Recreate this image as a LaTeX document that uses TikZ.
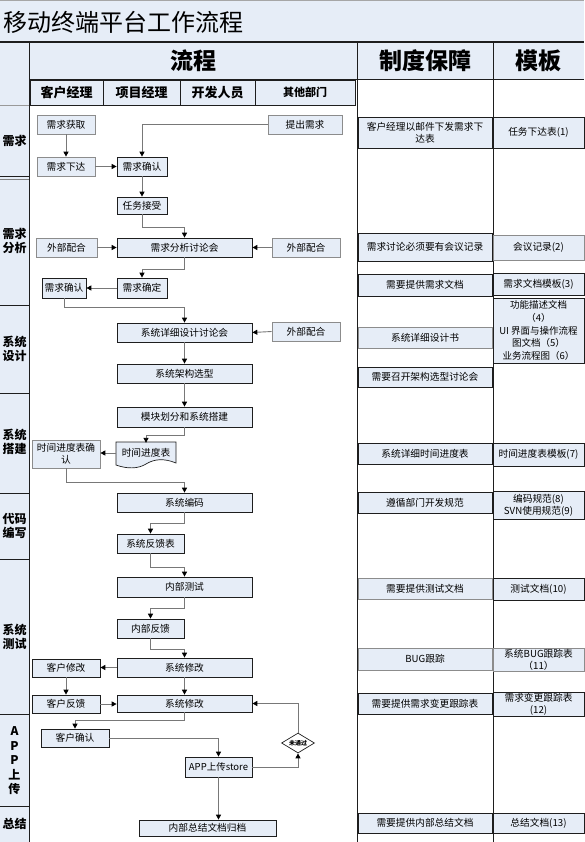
\documentclass[tikz,border=0pt]{standalone}
\usepackage{fontspec}
\setmainfont{Noto Sans CJK SC}
\usetikzlibrary{arrows.meta,shapes.geometric}
\definecolor{bb}{RGB}{230,237,247}
\definecolor{ln}{RGB}{120,120,120}
\definecolor{bd}{RGB}{30,30,30}
\newcommand\bx[7][]{\node[box,#1,minimum width={#5-#3},minimum height={#6-#4}] (#2) at ({(#3+#5)/2},{(#4+#6)/2}) {#7};}
\begin{document}
\begin{tikzpicture}[x=1pt,y=-1pt,
  box/.style={draw=bd,fill=bb,line width=0.7pt,inner sep=0pt,align=center,font=\fontsize{9.7}{12}\selectfont},
  gbox/.style={draw=black!45},
  lh/.style={font=\bfseries\fontsize{13}{13}\selectfont},
  ph/.style={font=\bfseries\fontsize{12}{14.5}\selectfont,align=center,inner sep=0pt},
  hd/.style={font=\bfseries\fontsize{23}{23}\selectfont,inner sep=0pt},
  conn/.style={draw=ln,line width=0.9pt,-{Triangle[length=5pt,width=5pt,color=black]}},
  grid/.style={draw=bd,line width=0.8pt}]
\useasboundingbox (0,0) rectangle (584,842);
% backgrounds
\fill[bb] (0,0) rectangle (584,42);
\draw[black!35] (0,0.5) -- (584,0.5);
\node[anchor=west,inner sep=0pt,font=\fontsize{24}{24}\selectfont] (title) at (3,22) {移动终端平台工作流程};
\fill[bb] (0,42) rectangle (584,79);
\fill[bb] (0,79) rectangle (29,842);
% grid lines
\draw[grid,line width=1.2pt] (0,42) -- (584,42);
\draw[grid] (29,79) -- (584,79);
\draw[grid] (29,42) -- (29,842);
\draw[grid] (357,42) -- (357,842);
\draw[grid] (493,42) -- (493,842);
\draw[black!40] (0,105) -- (29,105);
\foreach \yy in {176,305,393,493,559,714,806} {\draw[grid] (0,\yy) -- (29,\yy);}
\draw[grid,black!50] (0,179) -- (29,179);
% headers
\node[hd] (hflow) at (193,61) {流程};
\node[hd] (hzd) at (425,61) {制度保障};
\node[hd] (hmb) at (538,61) {模板};
\bx[lh]{l1}{30}{80}{103}{105}{客户经理}
\bx[lh]{l2}{103}{80}{180}{105}{项目经理}
\bx[lh]{l3}{180}{80}{255}{105}{开发人员}
\bx[font=\bfseries\fontsize{11}{11}\selectfont]{l4}{255}{80}{355}{105}{其他部门}
% phase labels
\node[ph] (p1) at (14.5,141) {需求};
\node[ph] (p2) at (14.5,241) {需求\\分析};
\node[ph] (p3) at (14.5,349) {系统\\设计};
\node[ph] (p4) at (14.5,442) {系统\\搭建};
\node[ph] (p5) at (14.5,526) {代码\\编写};
\node[ph] (p6) at (14.5,637) {系统\\测试};
\node[ph] (p7) at (14.5,761) {A\\P\\P\\上\\传};
\node[ph] (p8) at (14.5,824) {总结};
% flow boxes
\bx[gbox]{xqhq}{37}{115}{95}{134}{需求获取}
\bx[gbox]{tcxq}{268}{115}{342}{134}{提出需求}
\bx[gbox]{xqxd}{37}{157}{95}{176}{需求下达}
\bx{xqqr}{117}{157}{167}{176}{需求确认}
\bx{rwjs}{117}{197}{167}{214}{任务接受}
\bx{xqfx}{117}{238}{252}{257}{需求分析讨论会}
\bx[gbox]{wb1}{36}{238}{97}{257}{外部配合}
\bx[gbox]{wb2}{272}{238}{340}{257}{外部配合}
\bx{xqqd}{117}{278}{167}{298}{需求确定}
\bx{xqqrb}{42}{278}{86}{298}{需求确认}
\bx{xxsj}{117}{323}{252}{342}{系统详细设计讨论会}
\bx[gbox]{wb3}{272}{322}{340}{341}{外部配合}
\bx{jgxx}{117}{364}{252}{383}{系统架构选型}
\bx{mkhf}{117}{407}{252}{427}{模块划分和系统搭建}
\draw[draw=bd,fill=bb,line width=0.7pt] (116,442) -- (176,442) -- (176,463)
  .. controls (164,458) and (154,459) .. (146,464)
  .. controls (138,469) and (127,469) .. (116,465) -- cycle;
\node[inner sep=0pt,minimum width=60pt,minimum height=20pt,font=\fontsize{9.7}{12}\selectfont] (sjjd) at (146,453) {时间进度表};
\bx[gbox]{sjqr}{32}{440}{100}{468}{时间进度表确\\认}
\bx{xtbm}{117}{493}{252}{512}{系统编码}
\bx{fkb}{117}{534}{184}{553}{系统反馈表}
\bx{nbcs}{117}{577}{252}{597}{内部测试}
\bx{nbfk}{117}{619}{184}{638}{内部反馈}
\bx{xtxga}{117}{658}{252}{677}{系统修改}
\bx{khxg}{32}{659}{100}{677}{客户修改}
\bx{khfk}{32}{695}{100}{713}{客户反馈}
\bx{xtxgb}{117}{695}{252}{712}{系统修改}
\bx{khqr}{41}{729}{109}{747}{客户确认}
\bx[font=\fontsize{9.5}{12}\selectfont]{app}{185}{757}{252}{777}{APP上传store}
\node[diamond,draw=bd,fill=white,line width=0.7pt,inner sep=0pt,minimum width=33pt,minimum height=20pt,aspect=1.7,font=\bfseries\fontsize{6}{6}\selectfont] (wtg) at (298,743) {未通过};
\bx{zjgd}{139}{820}{276}{836}{内部总结文档归档}
% connectors
\draw[conn] (xqhq.south) -- (xqxd.north);
\draw[conn] (xqxd.east) -- (xqqr.west);
\draw[conn] (tcxq.west) -| (xqqr.north);
\draw[conn] (xqqr.south) -- (rwjs.north);
\draw[conn] (rwjs.south) -- ++(0,13) -| (xqfx.north);
\draw[conn] (wb1.east) -- (xqfx.west);
\draw[conn] (wb2.west) -- (xqfx.east);
\draw[conn] (xqfx.south) -- ++(0,12) -| (xqqd.north);
\draw[conn] (xqqd.west) -- (xqqrb.east);
\draw[conn] (xqqrb.south) -- ++(0,9) -| (xxsj.north);
\draw[conn] (wb3.west) -- (xxsj.east);
\draw[conn] (xxsj.south) -- (jgxx.north);
\draw[conn] (jgxx.south) -- (mkhf.north);
\draw[conn] (mkhf.south) -- ++(0,8) -| (sjjd.north);
\draw[conn] (sjjd.west) -- (sjjd.west -| sjqr.east);
\draw[conn] (sjqr.south) -- ++(0,14) -| (xtbm.north);
\draw[conn] (xtbm.south) -- ++(0,11) -| (fkb.north);
\draw[conn] (fkb.south) -- ++(0,14) -| (nbcs.north);
\draw[conn] (nbcs.south) -- ++(0,11) -| (nbfk.north);
\draw[conn] (nbfk.south) -- ++(0,11) -| (xtxga.north);
\draw[conn] (xtxga.west) -- (xtxga.west -| khxg.east);
\draw[conn] (khxg.south) -- (khfk.north);
\draw[conn] (xtxga.south) -- (xtxgb.north);
\draw[conn] (khfk.east) -- (khfk.east -| xtxgb.west);
\draw[conn] (xtxgb.south) -- ++(0,8) -| (khqr.north);
\draw[conn] (khqr.east) -| (app.north);
\draw[conn] (app.east) -| (wtg.south);
\draw[conn] (wtg.north) |- (xtxgb.east);
\draw[conn] (app.south) -- (app.south |- zjgd.north);
% right columns
\bx{ra}{358}{117}{492}{148}{客户经理以邮件下发需求下\\达表}
\bx{ma}{493}{117}{584}{148}{任务下达表(1)}
\bx{rb}{358}{233}{492}{261}{需求讨论必须要有会议记录}
\bx[gbox]{mb}{493}{235}{584}{260}{会议记录(2)}
\bx{rc}{358}{274}{492}{296}{需要提供需求文档}
\bx{mc}{493}{273}{584}{295}{需求文档模板(3)}
\bx[gbox]{rd}{358}{327}{492}{348}{系统详细设计书}
\bx[font=\fontsize{9.5}{12.6}\selectfont]{md}{493}{298}{584}{363}{功能描述文档\\（4）\\UI 界面与操作流程\\图文档（5）\\业务流程图（6）}
\bx{re}{358}{367}{492}{387}{需要召开架构选型讨论会}
\bx{rf}{358}{443}{492}{464}{系统详细时间进度表}
\bx{mf}{493}{443}{584}{466}{时间进度表模板(7)}
\bx{rg}{358}{492}{492}{513}{遵循部门开发规范}
\bx{mg}{493}{491}{584}{519}{编码规范(8)\\SVN使用规范(9)}
\bx[gbox]{rh}{358}{578}{492}{599}{需要提供测试文档}
\bx{mh}{493}{578}{584}{600}{测试文档(10)}
\bx[gbox]{ri}{358}{648}{492}{670}{BUG跟踪}
\bx[gbox]{mi}{493}{648}{584}{671}{系统BUG跟踪表\\（11）}
\bx{rj}{358}{693}{492}{714}{需要提供需求变更跟踪表}
\bx{mj}{493}{692}{584}{716}{需求变更跟踪表\\(12)}
\bx{rk}{358}{813}{492}{833}{需要提供内部总结文档}
\bx{mk}{493}{813}{584}{833}{总结文档(13)}
\end{tikzpicture}
\end{document}
